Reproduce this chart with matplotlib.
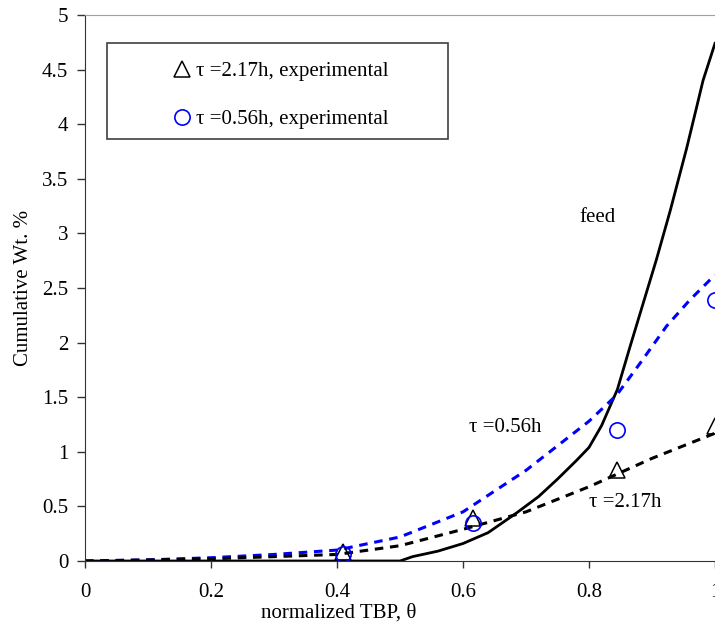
import numpy as np
import matplotlib.pyplot as plt
from matplotlib.patches import Rectangle

plt.rcParams['font.family'] = ['Liberation Serif', 'DejaVu Serif']

# feed curve (solid black)
theta_feed = [0, 0.5, 0.52, 0.56, 0.6, 0.64, 0.685, 0.72, 0.75, 0.78, 0.8, 0.82,
              0.845, 0.865, 0.886, 0.907, 0.929, 0.955, 0.971, 0.981, 1.0]
wt_feed = [0, 0, 0.04, 0.09, 0.16, 0.26, 0.44, 0.59, 0.75, 0.92, 1.04, 1.24,
           1.57, 1.96, 2.36, 2.76, 3.21, 3.78, 4.16, 4.40, 4.74]

# model, tau = 0.56h (blue dashed)
theta_056 = [0, 0.1, 0.2, 0.3, 0.4, 0.5, 0.6, 0.7, 0.8, 0.844, 0.881, 0.923, 0.96, 1.0]
wt_056 = [0, 0.01, 0.03, 0.06, 0.10, 0.22, 0.45, 0.83, 1.28, 1.52, 1.81, 2.15, 2.39, 2.62]

# model, tau = 2.17h (black dashed)
theta_217 = [0, 0.2, 0.4, 0.5, 0.6, 0.7, 0.8, 0.9, 1.0]
wt_217 = [0, 0.02, 0.06, 0.14, 0.29, 0.45, 0.68, 0.94, 1.17]

# experimental points
theta_exp = [0.41, 0.616, 0.845, 1.0]
exp_217 = [0.08, 0.39, 0.83, 1.24]
exp_056 = [0.06, 0.345, 1.2, 2.39]

fs = 15

fig = plt.figure(figsize=(7.15, 6.3), dpi=100)
ax = fig.add_axes([85 / 715, 69 / 630, 630 / 715, 546 / 630])

ax.plot(theta_feed, wt_feed, color='black', lw=2.0)
ax.plot(theta_056, wt_056, color='#0000FF', lw=2.2, linestyle=(0, (2.8, 2.2)))
ax.plot(theta_217, wt_217, color='black', lw=2.2, linestyle=(0, (2.8, 2.2)))
ax.plot(theta_exp, exp_217, linestyle='none', marker='^', ms=11, mfc='none',
        mec='black', mew=1.1, label='τ =2.17h, experimental')
ax.plot(theta_exp, exp_056, linestyle='none', marker='o', ms=11, mfc='none',
        mec='#0000FF', mew=1.2, label='τ =0.56h, experimental')

ax.text(0.813, 3.15, 'feed', fontsize=fs, ha='center', va='center')
ax.text(0.667, 1.22, 'τ =0.56h', fontsize=fs, ha='center', va='center')
ax.text(0.857, 0.54, 'τ =2.17h', fontsize=fs, ha='center', va='center')

ax.set_xlim(0, 1)
ax.set_ylim(0, 5)
ax.set_xticks([0, 0.2, 0.4, 0.6, 0.8, 1])
ax.set_xticklabels(['0', '0.2', '0.4', '0.6', '0.8', '1'])
ax.set_yticks(np.arange(0, 5.01, 0.5))
ax.set_yticklabels(['0', '0.5', '1', '1.5', '2', '2.5', '3', '3.5', '4', '4.5', '5'])
ax.tick_params(axis='x', direction='out', length=5, width=1, pad=11, labelsize=fs, color='#333333')
ax.tick_params(axis='y', direction='out', length=6, width=1, pad=6, labelsize=fs, color='#333333')

ax.set_xlabel('normalized TBP, θ', fontsize=fs)
ax.xaxis.set_label_coords(0.402, -0.078)
ax.set_ylabel('Cumulative Wt. %', fontsize=fs)
ax.yaxis.set_label_coords(-0.082, 0.5)

ax.spines['right'].set_visible(False)
ax.spines['top'].set_color('#A0A0A0')
ax.spines['left'].set_color('#333333')
ax.spines['bottom'].set_color('#333333')

# legend box
ax.add_patch(Rectangle((22 / 630, (561 - 139) / 546), 341 / 630, 96 / 546,
                       transform=ax.transAxes, fill=False, edgecolor='#404040',
                       lw=1.2, zorder=4))
leg = ax.legend(loc='center', bbox_to_anchor=(0.311, 0.853), frameon=False,
                fontsize=fs, handlelength=0.8, handletextpad=0.3,
                labelspacing=1.35, borderpad=0, numpoints=1)

fig.savefig('out.png', dpi=100)
